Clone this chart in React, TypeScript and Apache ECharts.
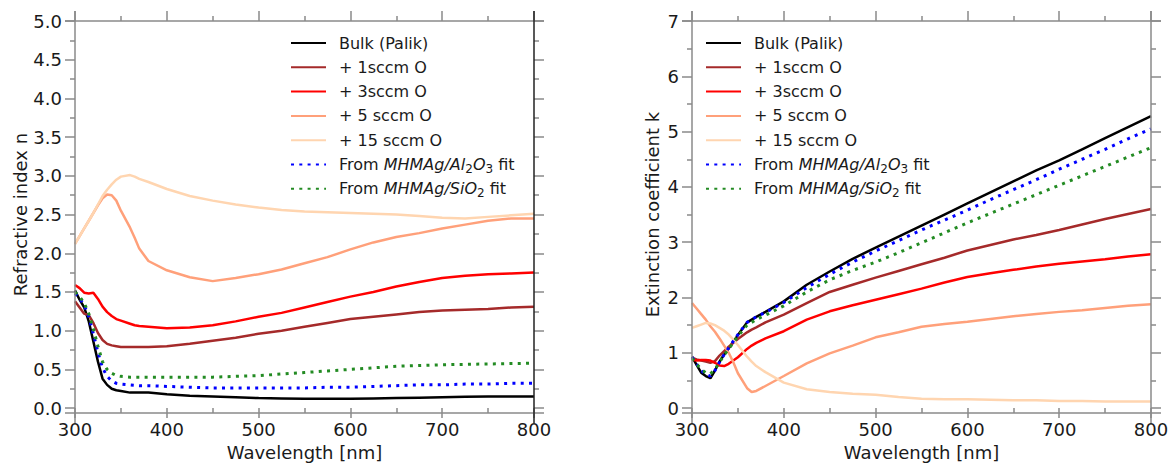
import React, { useEffect, useRef } from 'react';
import * as echarts from 'echarts';

const WAVELENGTH = [300, 305, 310, 315, 320, 325, 330, 335, 340, 345, 350, 360, 365, 370, 380, 400, 425, 450, 475, 500, 525, 550, 575, 600, 625, 650, 675, 700, 725, 750, 775, 800];

// Refractive index n
const N_BULK = [1.52, 1.40, 1.30, 1.12, 0.86, 0.60, 0.38, 0.30, 0.25, 0.23, 0.22, 0.20, 0.20, 0.20, 0.20, 0.18, 0.16, 0.15, 0.14, 0.13, 0.125, 0.12, 0.12, 0.12, 0.125, 0.13, 0.135, 0.14, 0.145, 0.15, 0.15, 0.15];
const N_1SCCM = [1.38, 1.30, 1.22, 1.20, 1.10, 0.97, 0.88, 0.83, 0.81, 0.80, 0.79, 0.79, 0.79, 0.79, 0.79, 0.80, 0.83, 0.87, 0.91, 0.96, 1.00, 1.05, 1.10, 1.15, 1.18, 1.21, 1.24, 1.26, 1.27, 1.28, 1.30, 1.31];
const N_3SCCM = [1.59, 1.55, 1.49, 1.48, 1.49, 1.41, 1.31, 1.24, 1.19, 1.15, 1.13, 1.09, 1.07, 1.06, 1.05, 1.03, 1.04, 1.07, 1.12, 1.18, 1.23, 1.30, 1.37, 1.44, 1.50, 1.57, 1.63, 1.68, 1.71, 1.73, 1.74, 1.75];
const N_5SCCM = [2.12, 2.22, 2.32, 2.42, 2.52, 2.62, 2.71, 2.76, 2.75, 2.68, 2.55, 2.33, 2.20, 2.06, 1.90, 1.78, 1.69, 1.64, 1.68, 1.73, 1.79, 1.87, 1.95, 2.05, 2.14, 2.21, 2.26, 2.32, 2.37, 2.42, 2.45, 2.45];
const N_15SCCM = [2.12, 2.22, 2.32, 2.42, 2.52, 2.63, 2.74, 2.82, 2.89, 2.95, 2.99, 3.01, 2.99, 2.96, 2.92, 2.83, 2.74, 2.68, 2.63, 2.59, 2.56, 2.54, 2.53, 2.52, 2.51, 2.50, 2.48, 2.46, 2.45, 2.47, 2.49, 2.51];
const N_AL2O3 = [1.48, 1.42, 1.33, 1.18, 0.96, 0.72, 0.52, 0.41, 0.35, 0.32, 0.31, 0.30, 0.295, 0.29, 0.29, 0.28, 0.27, 0.26, 0.26, 0.26, 0.26, 0.26, 0.27, 0.27, 0.28, 0.29, 0.30, 0.30, 0.31, 0.31, 0.32, 0.32];
const N_SIO2 = [1.50, 1.44, 1.36, 1.22, 1.02, 0.80, 0.60, 0.50, 0.45, 0.42, 0.41, 0.40, 0.40, 0.40, 0.40, 0.40, 0.40, 0.40, 0.41, 0.42, 0.44, 0.46, 0.48, 0.50, 0.52, 0.54, 0.55, 0.56, 0.565, 0.57, 0.575, 0.58];

// Extinction coefficient k
const K_BULK = [0.93, 0.78, 0.64, 0.58, 0.54, 0.68, 0.84, 0.97, 1.08, 1.20, 1.32, 1.55, 1.60, 1.65, 1.74, 1.93, 2.23, 2.47, 2.70, 2.90, 3.10, 3.30, 3.50, 3.70, 3.90, 4.10, 4.30, 4.48, 4.68, 4.88, 5.08, 5.28];
const K_1SCCM = [0.91, 0.88, 0.86, 0.84, 0.82, 0.85, 0.95, 1.03, 1.11, 1.18, 1.25, 1.37, 1.42, 1.46, 1.55, 1.69, 1.90, 2.10, 2.23, 2.36, 2.48, 2.60, 2.72, 2.85, 2.95, 3.05, 3.13, 3.22, 3.32, 3.42, 3.51, 3.60];
const K_3SCCM = [0.88, 0.86, 0.87, 0.87, 0.86, 0.82, 0.77, 0.76, 0.80, 0.86, 0.92, 1.07, 1.13, 1.18, 1.26, 1.39, 1.60, 1.75, 1.86, 1.96, 2.06, 2.16, 2.27, 2.37, 2.44, 2.50, 2.56, 2.61, 2.65, 2.69, 2.74, 2.78];
const K_5SCCM = [1.90, 1.80, 1.70, 1.60, 1.48, 1.38, 1.26, 1.13, 1.00, 0.83, 0.63, 0.36, 0.29, 0.31, 0.40, 0.58, 0.81, 0.99, 1.13, 1.28, 1.37, 1.47, 1.52, 1.56, 1.61, 1.66, 1.70, 1.74, 1.77, 1.81, 1.85, 1.88];
const K_15SCCM = [1.45, 1.48, 1.51, 1.54, 1.53, 1.50, 1.45, 1.40, 1.33, 1.24, 1.14, 0.93, 0.84, 0.76, 0.65, 0.46, 0.34, 0.29, 0.26, 0.24, 0.20, 0.17, 0.16, 0.16, 0.15, 0.14, 0.14, 0.13, 0.13, 0.12, 0.12, 0.12];
const K_AL2O3 = [0.92, 0.80, 0.68, 0.61, 0.58, 0.68, 0.83, 0.97, 1.09, 1.21, 1.33, 1.55, 1.60, 1.65, 1.73, 1.91, 2.18, 2.42, 2.64, 2.84, 3.03, 3.22, 3.40, 3.58, 3.77, 3.95, 4.13, 4.32, 4.50, 4.68, 4.87, 5.05];
const K_SIO2 = [0.90, 0.80, 0.70, 0.64, 0.62, 0.70, 0.83, 0.96, 1.07, 1.18, 1.30, 1.50, 1.55, 1.60, 1.68, 1.85, 2.10, 2.32, 2.49, 2.64, 2.81, 2.99, 3.17, 3.35, 3.52, 3.69, 3.86, 4.03, 4.20, 4.37, 4.54, 4.71];

const SERIES_NAMES = ['Bulk (Palik)', '+ 1sccm O', '+ 3sccm O', '+ 5 sccm O', '+ 15 sccm O', 'From MHMAg/Al2O3 fit', 'From MHMAg/SiO2 fit'];
const N_VALUES = [N_BULK, N_1SCCM, N_3SCCM, N_5SCCM, N_15SCCM, N_AL2O3, N_SIO2];
const K_VALUES = [K_BULK, K_1SCCM, K_3SCCM, K_5SCCM, K_15SCCM, K_AL2O3, K_SIO2];
const COLORS = ['#000000', '#a52a2a', '#ff0000', '#ffa07a', '#ffd5b0', '#0000ff', '#238b23'];
const DOTTED = [false, false, false, false, false, true, true];

const LEGEND_RICH: Record<string, string> = {
  'From MHMAg/Al2O3 fit': 'From {it|MHMAg/Al}{sub|2}{it|O}{sub|3} fit',
  'From MHMAg/SiO2 fit': 'From {it|MHMAg/SiO}{sub|2} fit',
};

const FONT = 'DejaVu Sans';
const TEXT = '#1a1a1a';
const SPINE = '#8a8a8a';

const PLOTS = [
  { left: 75, top: 21, width: 459, height: 392 },
  { left: 692, top: 21, width: 459, height: 392 },
];

export default function App() {
  const ref = useRef<HTMLDivElement>(null);
  useEffect(() => {
    document.body.style.margin = '0';
    const chart = echarts.init(ref.current!, null, { renderer: 'svg' });

    const tickStyle = { color: SPINE, width: 1.5 };
    const mkX = (grid: number, pos: 'bottom' | 'top') => ({
      type: 'value',
      gridIndex: grid,
      position: pos,
      min: 300,
      max: 800,
      interval: 100,
      axisLine: { show: false, onZero: false },
      axisTick: { show: true, inside: false, length: 10, lineStyle: tickStyle },
      minorTick: { show: true, splitNumber: 2, length: 5, lineStyle: tickStyle },
      splitLine: { show: false },
      axisLabel: pos === 'bottom'
        ? { show: true, fontSize: 18, fontFamily: FONT, color: TEXT, margin: 12 }
        : { show: false },
      name: pos === 'bottom' ? 'Wavelength [nm]' : '',
      nameLocation: 'middle',
      nameGap: 34,
      nameTextStyle: { fontSize: 18, fontFamily: FONT, color: TEXT },
    });
    const mkY = (grid: number, pos: 'left' | 'right', max: number, interval: number, name: string, gap: number, dec: number) => ({
      type: 'value',
      gridIndex: grid,
      position: pos,
      min: 0,
      max,
      interval,
      axisLine: { show: false, onZero: false },
      axisTick: { show: true, inside: false, length: 10, lineStyle: tickStyle },
      minorTick: { show: true, splitNumber: 2, length: 5, lineStyle: tickStyle },
      splitLine: { show: false },
      axisLabel: pos === 'left'
        ? { show: true, fontSize: 18, fontFamily: FONT, color: TEXT, margin: 13, formatter: (v: number) => v.toFixed(dec) }
        : { show: false },
      name: pos === 'left' ? name : '',
      nameLocation: 'middle',
      nameRotate: 90,
      nameGap: gap,
      nameTextStyle: { fontSize: 18, fontFamily: FONT, color: TEXT },
    });

    const series: any[] = [];
    [N_VALUES, K_VALUES].forEach((vals, g) => {
      vals.forEach((arr, i) => {
        series.push({
          type: 'line',
          name: SERIES_NAMES[i],
          xAxisIndex: g * 2,
          yAxisIndex: g * 2,
          data: WAVELENGTH.map((w, j) => [w, arr[j]]),
          showSymbol: false,
          symbol: 'none',
          smooth: false,
          lineStyle: {
            color: COLORS[i],
            width: DOTTED[i] ? 3 : 2.5,
            type: DOTTED[i] ? [3, 5.3] : 'solid',
            cap: 'butt',
          },
          itemStyle: { color: COLORS[i] },
        });
      });
    });

    const mkLegend = (left: number) => ({
      data: SERIES_NAMES,
      orient: 'vertical',
      left,
      top: 33,
      padding: 0,
      itemWidth: 35,
      itemHeight: 14,
      itemGap: 4.3,
      selectedMode: false,
      itemStyle: { opacity: 0 },
      formatter: (name: string) => LEGEND_RICH[name] || name,
      textStyle: {
        fontSize: 16,
        fontFamily: FONT,
        color: TEXT,
        lineHeight: 20,
        padding: [0, 0, 0, 8],
        rich: {
          it: { fontSize: 16, fontFamily: FONT, fontStyle: 'italic', color: TEXT, lineHeight: 20 },
          sub: { fontSize: 12, fontFamily: FONT, color: TEXT, lineHeight: 12, verticalAlign: 'bottom' },
        },
      },
    });

    const spines: any[] = [];
    PLOTS.forEach((p, g) => {
      const L = p.left, R = p.left + p.width, T = p.top, B = p.top + p.height;
      const segs = [
        [L - 10, B, R + 10, B, SPINE],
        [L - 10, T, R + 10, T, SPINE],
        [L, T - 10, L, B + 10, SPINE],
        [R, T - 10, R, B + 10, g === 0 ? '#222222' : SPINE],
      ];
      segs.forEach((s) => {
        spines.push({
          type: 'line',
          z: 100,
          silent: true,
          shape: { x1: s[0], y1: s[1], x2: s[2], y2: s[3] },
          style: { stroke: s[4] as string, lineWidth: 1.5 },
        });
      });
    });

    chart.setOption({
      animation: false,
      backgroundColor: '#ffffff',
      grid: PLOTS.map((p) => ({ ...p, containLabel: false })),
      xAxis: [mkX(0, 'bottom'), mkX(0, 'top'), mkX(1, 'bottom'), mkX(1, 'top')],
      yAxis: [
        mkY(0, 'left', 5, 0.5, 'Refractive index n', 40, 1),
        mkY(0, 'right', 5, 0.5, '', 40, 1),
        mkY(1, 'left', 7, 1, 'Extinction coefficient k', 31, 0),
        mkY(1, 'right', 7, 1, '', 31, 0),
      ],
      legend: [mkLegend(290), mkLegend(705)],
      graphic: spines,
      series,
    });
    return () => chart.dispose();
  }, []);
  return <div ref={ref} style={{ width: 1172, height: 466 }} />;
}
